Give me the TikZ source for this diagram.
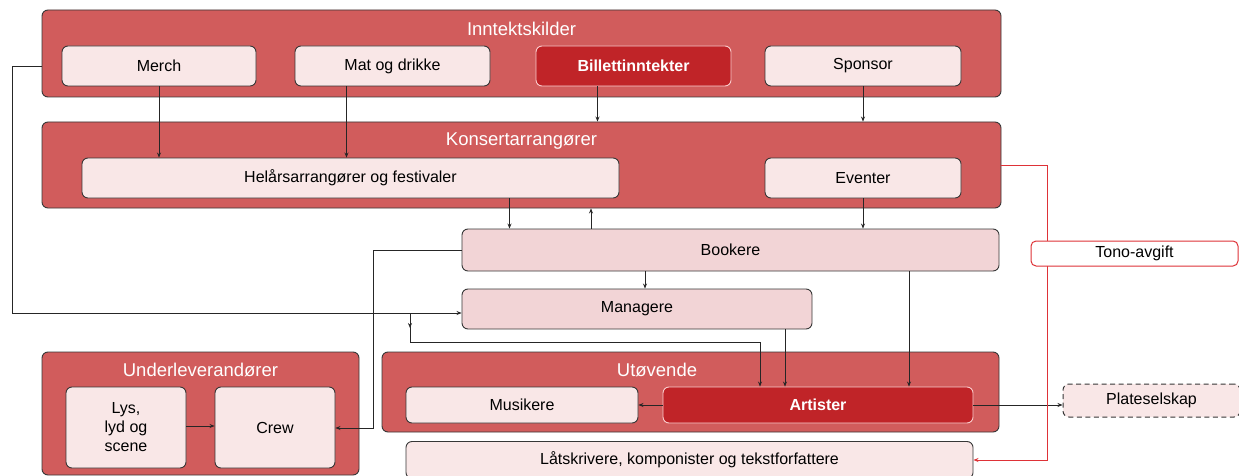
\documentclass[tikz,border=0pt]{standalone}
\usepackage{fontspec}
\setmainfont{Liberation Sans}
\usetikzlibrary{calc,arrows.meta}
\definecolor{cont}{RGB}{209,92,92}
\definecolor{lightbox}{RGB}{249,231,231}
\definecolor{midbox}{RGB}{242,212,214}
\definecolor{darkbox}{RGB}{192,36,40}
\definecolor{darkedge}{RGB}{250,205,205}
\definecolor{edge}{RGB}{55,55,55}
\definecolor{redline}{RGB}{222,50,55}
\begin{document}
\begin{tikzpicture}[x=1pt,y=-1pt,
  box/.style={draw=edge,line width=0.9pt,rounded corners=6pt,inner sep=0pt,
    font=\fontsize{16}{18}\selectfont,text=black},
  container/.style={box,fill=cont},
  lbox/.style={box,fill=lightbox},
  mbox/.style={box,fill=midbox},
  dbox/.style={box,fill=darkbox,draw=darkedge,text=white,
    font=\fontsize{16}{18}\selectfont\bfseries},
  ttl/.style={text=white,font=\fontsize{18.5}{20}\selectfont,inner sep=0pt},
  arr/.style={draw=black!85,line width=0.7pt,-{Stealth[length=5pt,width=4pt]}},
  ln/.style={draw=black!85,line width=0.7pt},
  redarr/.style={draw=redline,line width=1pt,-{Stealth[length=5pt,width=4pt]}},
]
\useasboundingbox (0,0) rectangle (1239,476);

% containers
\node[container,minimum width=959,minimum height=87] (ink) at (521.5,53.5) {};
\node[container,minimum width=959,minimum height=86] (kon) at (521.5,165) {};
\node[container,minimum width=317,minimum height=123] (und) at (200.5,413.5) {};
\node[container,minimum width=617,minimum height=80] (utv) at (690.5,392) {};

\node[ttl] (tink) at (521.5,29) {Inntektskilder};
\node[ttl] (tkon) at (521.5,141) {Konsertarrangører};
\node[ttl] (tund) at (200.5,370) {Underleverandører};
\node[ttl] (tutv) at (657,370) {Utøvende};

% inner boxes
\node[lbox,minimum width=194,minimum height=40] (merch) at (159,66) {Merch};
\node[lbox,minimum width=195,minimum height=40] (mat) at (392.5,66) {Mat og drikke};
\node[dbox,minimum width=195,minimum height=40] (bil) at (633.5,66) {Billettinntekter};
\node[lbox,minimum width=196,minimum height=40] (spo) at (863,66) {Sponsor};
\node[lbox,minimum width=537,minimum height=40] (hel) at (350.5,178) {Helårsarrangører og festivaler};
\node[lbox,minimum width=196,minimum height=40] (eve) at (863,178) {Eventer};
\node[mbox,minimum width=537,minimum height=42] (boo) at (730.5,250) {Bookere};
\node[mbox,minimum width=350,minimum height=40] (man) at (637,309) {Managere};
\node[lbox,minimum width=120,minimum height=81,align=center,
  font=\fontsize{16}{19}\selectfont] (lys) at (126,427.5) {Lys,\\lyd og\\scene};
\node[lbox,minimum width=120,minimum height=81] (crew) at (275,427.5) {Crew};
\node[lbox,minimum width=232,minimum height=36] (mus) at (522,405) {Musikere};
\node[dbox,minimum width=310,minimum height=36] (art) at (818,405) {Artister};
\node[lbox,minimum width=567,minimum height=37] (lat) at (689.5,460) {Låtskrivere, komponister og tekstforfattere};
\node[lbox,dash pattern=on 5pt off 3.5pt,line width=1pt,minimum width=177,minimum height=33] (plate) at (1151.5,400.5) {Plateselskap};

% coordinates
\coordinate (m1) at (12,313);
\coordinate (b1) at (410,313);
\coordinate (b2) at (410,342);
\coordinate (v1) at (373,428);
\coordinate (r1) at (1047,460);

% arrows
\draw[arr] (merch.south) -- (merch.south |- hel.north);
\draw[arr] ($(mat.south)+(-46,0)$) -- ($(mat.south |- hel.north)+(-46,0)$);
\draw[arr] ($(bil.south)+(-36,0)$) -- ($(bil.south |- kon.north)+(-36,0)$);
\draw[arr] (spo.south) -- (spo.south |- kon.north);
\draw[arr] ($(hel.south)+(159,0)$) -- ($(hel.south |- boo.north)+(159,0)$);
\draw[arr] ($(boo.north)+(-139.5,0)$) -- ($(boo.north |- kon.south)+(-139.5,0)$);
\draw[arr] (eve.south) -- (eve.south |- boo.north);
\draw[arr] ($(boo.south)+(-85.5,0)$) -- ($(boo.south |- man.north)+(-85.5,0)$);
\draw[arr] ($(boo.south)+(178.5,0)$) -- ($(boo.south |- art.north)+(178.5,0)$);
\draw[arr] ($(man.south)+(148,0)$) -- ($(man.south |- art.north)+(148,0)$);

\draw[arr] (ink.west |- merch.center) -| (m1) -- (m1 -| man.west);
\draw[arr] (b1) -- ($(b1)+(0,15)$);
\draw[arr] (b1) -- (b2) -| ($(art.north)+(-58,0)$);

\draw[arr] (boo.west) -| (v1) -- (v1 -| crew.east);
\draw[ln] ($(man.west)+(0,-8)$) -- ($(man.west)+(0,-8)$ -| v1);

\draw[arr] ($(lys.east)+(0,-1.5)$) -- ($(crew.west)+(0,-1.5)$);
\draw[arr] (art.west) -- (mus.east);
\draw[arr] (art.east) -- (art.east -| plate.west);

\draw[redarr] (kon.east) -| (r1) -- (lat.east);
\node[box,draw=redline,line width=1pt,fill=white,minimum width=207,minimum height=25,rounded corners=5pt] (tono) at (1134.5,253.5) {Tono-avgift};
\end{tikzpicture}
\end{document}
